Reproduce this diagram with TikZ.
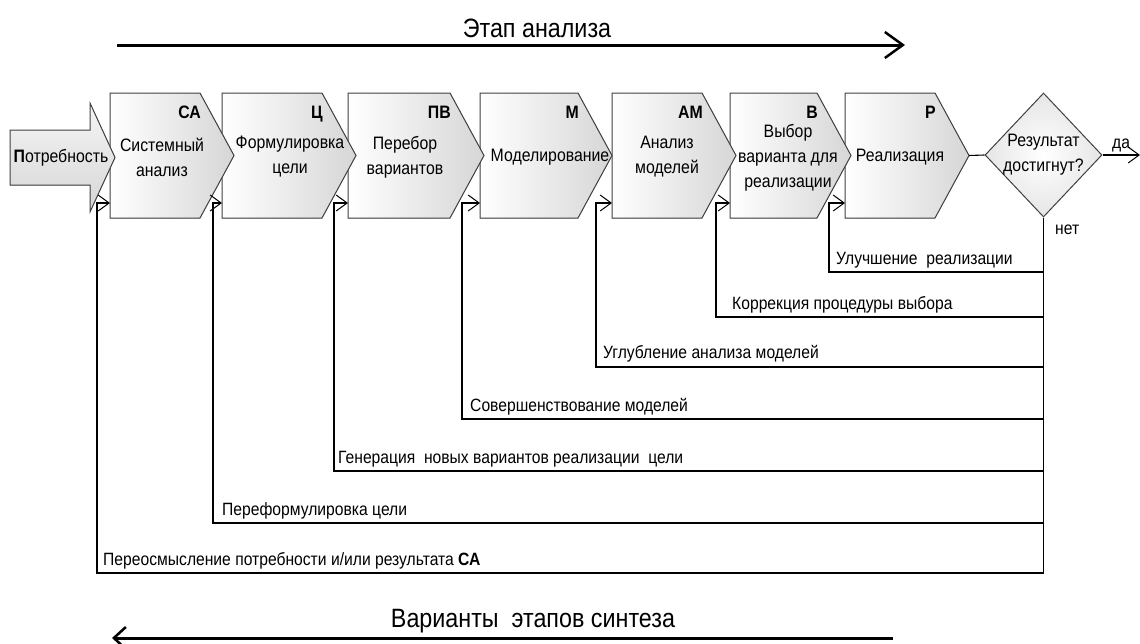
\documentclass[tikz,border=0pt]{standalone}
\usepackage{fontspec}
\setmainfont{Liberation Sans}[FakeStretch=0.88]
\usetikzlibrary{arrows.meta,shapes.geometric}

\tikzset{
  stagebox/.style={draw=black!75, line width=1pt, left color=white, right color=black!16},
  needbox/.style={draw=black!75, line width=1pt, top color=black!4, bottom color=black!16},
  decision/.style={diamond, draw=black!75, line width=1pt, inner color=white, outer color=black!10,
    minimum width=117pt, minimum height=124pt, inner sep=0pt},
  stagecode/.style={font=\fontsize{18}{20}\selectfont\bfseries, anchor=base east, inner sep=0pt},
  stagetext/.style={font=\fontsize{18}{25}\selectfont, align=center, inner sep=0pt},
  fblabel/.style={font=\fontsize{17.8}{20}\selectfont, anchor=base west, inner sep=0pt},
  fb/.style={line width=1.1pt},
  fbarrow/.style={fb, -{Straight Barb[length=11pt,width=16pt,line width=1pt]}},
  phase/.style={line width=3pt},
  phaselabel/.style={font=\fontsize{26.5}{30}\selectfont, inner sep=0pt}
}

% stage box: name, left x, corner x, code
\newcommand{\stage}[4]{%
  \filldraw[stagebox] (#2,93) -- (#3,93) -- ({#3+34},155.5) -- (#3,218) -- (#2,218) -- cycle;
  \node[stagecode] (#1-code) at ({#3+1},118) {#4};
  \coordinate (#1-in) at (#2,203);
  \coordinate (#1-out) at ({#3+34},155.5);
}

\begin{document}
\begin{tikzpicture}[x=1pt,y=-1pt]
\useasboundingbox (0,0) rectangle (1140,643);

% phases
\coordinate (an-start) at (117,45);
\coordinate (an-end) at (905,45);
\draw[phase, -{Straight Barb[length=18pt,width=26pt,line width=2.5pt]}] (an-start) -- (an-end);
\node[phaselabel] (an-label) at (537,28) {Этап анализа};
\coordinate (syn-start) at (893,638);
\coordinate (syn-end) at (112,638);
\draw[phase, -{Straight Barb[length=12pt,width=22pt,line width=2.5pt]}] (syn-start) -- (syn-end);
\node[phaselabel] (syn-label) at (533,621) {Варианты \ этапов синтеза};

% stages, right to left
\stage{R}{845}{935}{Р}
\stage{V}{730}{817}{В}
\stage{AM}{612}{702}{АМ}
\stage{M}{480}{578}{М}
\stage{PV}{348}{450}{ПВ}
\stage{C}{222}{322}{Ц}
\stage{SA}{110}{200}{СА}

\node[stagetext] (SA-txt) at (162,157) {Системный\\анализ};
\node[stagetext] (C-txt) at (290,157) {Формулировка\\цели};
\node[stagetext] (PV-txt) at (405,157) {Перебор\\вариантов};
\node[stagetext] (M-txt) at (550,157) {Моделирование};
\node[stagetext] (AM-txt) at (667,157) {Анализ\\моделей};
\node[stagetext] (V-txt) at (788,158) {Выбор\\варианта для\\реализации};
\node[stagetext] (R-txt) at (900,157) {Реализация};

% need
\filldraw[needbox] (10,130) -- (90,130) -- (90,103) -- (115,157.5) -- (90,212) -- (90,185) -- (10,185) -- cycle;
\node[stagetext] (need) at (61,158) {\textbf{П}отребность};

% decision
\node[decision] (check) at (1043.5,155) {};
\node[stagetext] (check-txt) at (check) {Результат\\достигнут?};
\draw[fb] (R-out) -- (check.west);
\coordinate (exit) at (1140,155);
\draw[fbarrow] (check.east) -- (exit);
\node[fblabel] (yes) at (1112,148) {да};
\node[fblabel] (no) at (1055,234) {нет};

% feedback loops
\draw[fb] (check.south) -- (check.south |- 0,573);
\foreach \s/\x/\y in {R/829/272, V/716/317, AM/596/367, M/462/419, PV/334/471, C/213/523, SA/97/573}
  \draw[fbarrow] (check.south |- 0,\y) -- (\x,\y) -- (\x,203) -- (\s-in);

\node[fblabel] (R-fb) at (836,264) {Улучшение \ реализации};
\node[fblabel] (V-fb) at (732,309) {Коррекция процедуры выбора};
\node[fblabel] (AM-fb) at (603,358) {Углубление анализа моделей};
\node[fblabel] (M-fb) at (470,411) {Совершенствование моделей};
\node[fblabel] (PV-fb) at (338,463) {Генерация \ новых вариантов реализации \ цели};
\node[fblabel] (C-fb) at (222,515) {Переформулировка цели};
\node[fblabel] (SA-fb) at (103,565) {Переосмысление потребности и/или результата \textbf{СА}};
\end{tikzpicture}
\end{document}
